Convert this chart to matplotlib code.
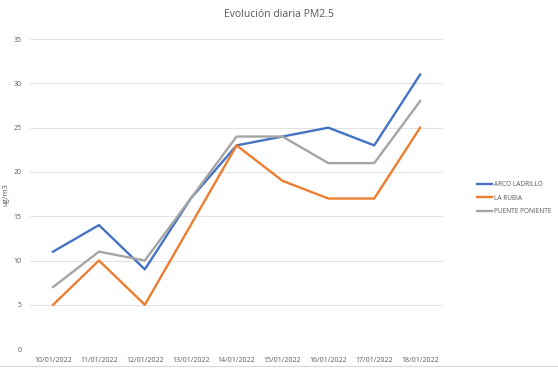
import numpy as np
import matplotlib.pyplot as plt

dates = ["10/01/2022", "11/01/2022", "12/01/2022", "13/01/2022", "14/01/2022",
         "15/01/2022", "16/01/2022", "17/01/2022", "18/01/2022"]
arco_ladrillo = [11, 14, 9, 17, 23, 24, 25, 23, 31]
la_rubia = [5, 10, 5, 14, 23, 19, 17, 17, 25]
puente_poniente = [7, 11, 10, 17, 24, 24, 21, 21, 28]

plt.rcParams['font.family'] = ['Open Sans', 'DejaVu Sans']

fig = plt.figure(figsize=(5.58, 3.69), dpi=100)
ax = fig.add_axes([0.054, 0.054, 0.740, 0.840])

x = np.arange(len(dates))
ax.plot(x, arco_ladrillo, color='#4472C4', lw=1.7, label='ARCO LADRILLO')
ax.plot(x, la_rubia, color='#ED7D31', lw=1.7, label='LA RUBIA')
ax.plot(x, puente_poniente, color='#A5A5A5', lw=1.7, label='PUENTE PONIENTE')

ax.set_xlim(-0.5, len(dates) - 0.5)
ax.set_ylim(0, 35)
ax.set_yticks(range(0, 36, 5))
ax.set_xticks(x)
ax.set_xticklabels(dates)
ax.tick_params(length=0, labelsize=5, colors='#595959', pad=6)
ax.grid(axis='y', color='#E3E3E3', lw=0.8)
ax.set_axisbelow(True)
for s in ax.spines.values():
    s.set_visible(False)

ax.set_ylabel('ug/m3', fontsize=5.5, color='#595959')
ax.yaxis.set_label_coords(-0.05, 0.5)
fig.suptitle('Evolución diaria PM2.5', x=0.5, y=0.975, fontsize=7.5, color='#595959')

ax.legend(loc='center left', bbox_to_anchor=(1.075, 0.487), frameon=False,
          fontsize=4.7, handlelength=2.3, labelcolor='#595959', handletextpad=0.25,
          labelspacing=0.95, borderpad=0)

fig.add_artist(plt.Line2D([0, 1], [0.007, 0.007], color='#D9D9D9', lw=0.8,
                          transform=fig.transFigure))

fig.savefig('out.png', dpi=100)
